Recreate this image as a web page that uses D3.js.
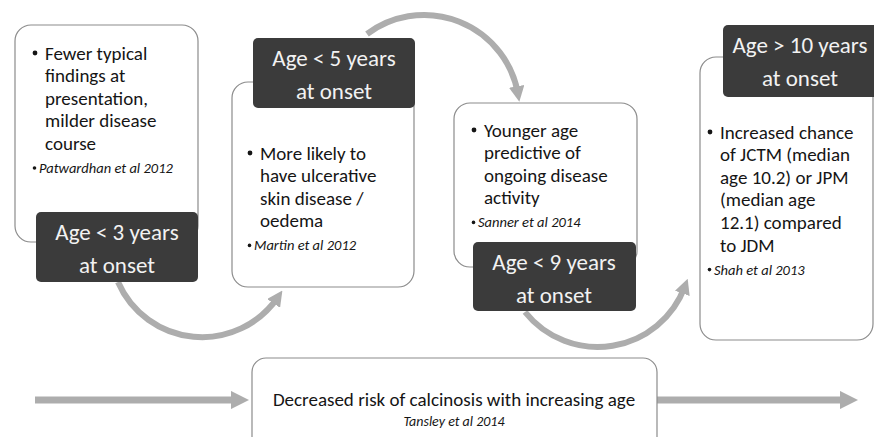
<!DOCTYPE html>
<html>
<head>
<meta charset="utf-8">
<script src="https://cdn.jsdelivr.net/npm/d3@7"></script>
<style>
  html, body { margin: 0; padding: 0; background: #fff; }
  svg { display: block; font-family: Carlito, Lato, "Open Sans", sans-serif; }
</style>
</head>
<body>
<svg id="chart" width="874" height="437"></svg>
<script>
// stage labels (dark tabs)
const stageLabels = [
  ['Age < 3 years', 'at onset'],
  ['Age < 5 years', 'at onset'],
  ['Age < 9 years', 'at onset'],
  ['Age > 10 years', 'at onset']
]
// bullet text per stage, already broken into lines
const findings = [
  ['Fewer typical', 'findings at', 'presentation,', 'milder disease', 'course'],
  ['More likely to', 'have ulcerative', 'skin disease /', 'oedema'],
  ['Younger age', 'predictive of', 'ongoing disease', 'activity'],
  ['Increased chance', 'of JCTM (median', 'age 10.2) or JPM', '(median age', '12.1) compared', 'to JDM']
]
const citations = ['Patwardhan et al 2012', 'Martin et al 2012', 'Sanner et al 2014', 'Shah et al 2013']
const bottomText = 'Decreased risk of calcinosis with increasing age'
const bottomCitation = 'Tansley et al 2014'

// layout of each stage: white card, dark tab, first text line
const layout = [
  { box: [15, 25, 183, 217], tab: [36, 212, 162, 70], text: [33, 53], label: 117 },
  { box: [232, 82, 182, 205], tab: [253, 38, 162, 70], text: [248, 153], label: 334 },
  { box: [454, 103, 183, 164], tab: [473, 242, 163, 69], text: [472, 130], label: 554 },
  { box: [700, 57, 173, 283], tab: [723, 25, 160, 72], text: [708, 132], label: 800 }
]
// connecting arcs: start, low/high point, end
const arcs = [
  [[118, 282], [197, 337], [278, 297]],
  [[367, 34], [423, 15], [518, 94]],
  [[525, 312], [600, 347], [685, 286]]
]

const svg = d3.select('#chart')
const grey = '#adadad'
const ink = '#151515'

svg.append('defs').append('marker')
  .attr('id', 'head')
  .attr('viewBox', '0 0 10 10')
  .attr('refX', 5).attr('refY', 5)
  .attr('markerWidth', 2.6).attr('markerHeight', 2.6)
  .attr('orient', 'auto')
  .append('path')
  .attr('d', 'M0,0 L10,5 L0,10 Z')
  .attr('fill', grey)

// circle through three points, drawn as an svg arc
function arcPath ([a, b, c]) {
  const d = 2 * (a[0] * (b[1] - c[1]) + b[0] * (c[1] - a[1]) + c[0] * (a[1] - b[1]))
  const sa = a[0] * a[0] + a[1] * a[1], sb = b[0] * b[0] + b[1] * b[1], sc = c[0] * c[0] + c[1] * c[1]
  const ux = (sa * (b[1] - c[1]) + sb * (c[1] - a[1]) + sc * (a[1] - b[1])) / d
  const uy = (sa * (c[0] - b[0]) + sb * (a[0] - c[0]) + sc * (b[0] - a[0])) / d
  const r = Math.hypot(a[0] - ux, a[1] - uy)
  const cross = (b[0] - a[0]) * (c[1] - a[1]) - (b[1] - a[1]) * (c[0] - a[0])
  const sweep = cross > 0 ? 1 : 0
  return `M${a[0]},${a[1]} A${r},${r} 0 0 ${sweep} ${c[0]},${c[1]}`
}

svg.append('g').selectAll('path')
  .data(arcs)
  .join('path')
  .attr('d', arcPath)
  .attr('fill', 'none')
  .attr('stroke', grey)
  .attr('stroke-width', 6)
  .attr('marker-end', 'url(#head)')

// straight timeline arrows
const line = d3.line()
svg.append('g').selectAll('path')
  .data([[[35, 400], [240, 400]], [[657, 400], [849, 400]]])
  .join('path')
  .attr('d', line)
  .attr('stroke', grey)
  .attr('stroke-width', 7)
  .attr('marker-end', 'url(#head)')
  .attr('fill', 'none')

// bottom card
const bottom = svg.append('g')
bottom.append('rect')
  .attr('x', 252).attr('y', 358).attr('width', 405).attr('height', 100)
  .attr('rx', 14)
  .attr('fill', '#fff').attr('stroke', '#8c8c8c').attr('stroke-width', 1.2)
bottom.append('text')
  .attr('x', 454).attr('y', 406)
  .attr('text-anchor', 'middle')
  .attr('font-size', 19).attr('fill', ink)
  .text(bottomText)
bottom.append('text')
  .attr('x', 454).attr('y', 426)
  .attr('text-anchor', 'middle')
  .attr('font-size', 14).attr('font-style', 'italic').attr('fill', ink)
  .text(bottomCitation)

const stages = svg.append('g').selectAll('g')
  .data(d3.range(stageLabels.length))
  .join('g')

// white cards
stages.append('rect')
  .attr('x', i => layout[i].box[0]).attr('y', i => layout[i].box[1])
  .attr('width', i => layout[i].box[2]).attr('height', i => layout[i].box[3])
  .attr('rx', 16)
  .attr('fill', '#fff').attr('stroke', '#8c8c8c').attr('stroke-width', 1.2)

// bullet text
stages.each(function (i) {
  const g = d3.select(this)
  const [bx, by] = layout[i].text
  const step = 22.6
  g.append('circle').attr('cx', bx + 2).attr('cy', by).attr('r', 2.4).attr('fill', ink)
  g.append('text')
    .attr('font-size', 19).attr('fill', ink)
    .selectAll('tspan')
    .data(findings[i])
    .join('tspan')
    .attr('x', bx + 12)
    .attr('y', (d, k) => by + 6.5 + k * step)
    .text(d => d)
  const cy = by + findings[i].length * step + 2
  g.append('circle').attr('cx', bx + 1.5).attr('cy', cy).attr('r', 1.8).attr('fill', ink)
  g.append('text')
    .attr('x', bx + 6).attr('y', cy + 5)
    .attr('font-size', 14.5).attr('font-style', 'italic').attr('fill', ink)
    .text(citations[i])
})

// dark tabs
stages.append('rect')
  .attr('x', i => layout[i].tab[0]).attr('y', i => layout[i].tab[1])
  .attr('width', i => layout[i].tab[2]).attr('height', i => layout[i].tab[3])
  .attr('rx', 5)
  .attr('fill', '#3b3b3b')

stages.append('text')
  .attr('text-anchor', 'middle')
  .attr('font-size', 23).attr('fill', '#f2f2f2')
  .selectAll('tspan')
  .data(i => stageLabels[i].map(t => ({ t, i })))
  .join('tspan')
  .attr('x', d => layout[d.i].label)
  .attr('y', (d, k) => layout[d.i].tab[1] + 28 + k * 33)
  .text(d => d.t)
</script>
</body>
</html>
